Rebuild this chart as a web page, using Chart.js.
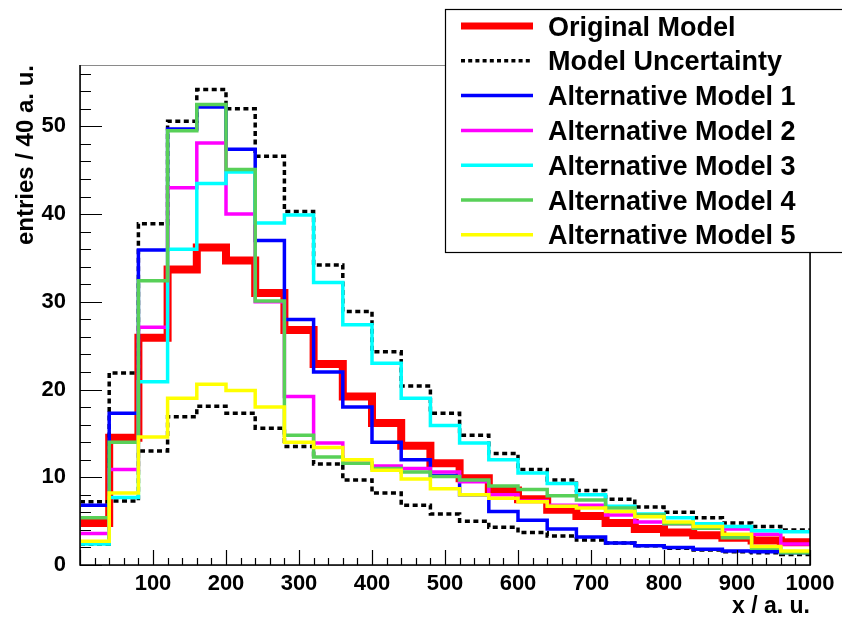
<!DOCTYPE html>
<html>
<head>
<meta charset="utf-8">
<script src="https://cdn.jsdelivr.net/npm/chart.js@4/dist/chart.umd.min.js"></script>
<style>
	html, body { margin: 0; padding: 0; background: #fff; }
</style>
</head>
<body>
<canvas id="chart" width="842" height="618"></canvas>
<script>
// lower bin edges (bin width 40), last upper edge
let binLow = [0, 40, 80, 120, 160, 200, 240, 280, 320, 360, 400, 440, 480, 520, 560, 600, 640, 680, 720, 760, 800, 840, 880, 920, 960];
let binHigh = 1000;

let originalModel = [4.8, 14.5, 25.9, 33.7, 36.2, 34.7, 31.0, 26.8, 22.9, 19.2, 16.2, 13.6, 11.6, 9.9, 8.5, 7.5, 6.3, 5.6, 4.8, 4.1, 3.7, 3.4, 3.1, 2.8, 2.6];
let uncertaintyUp = [7.2, 21.9, 38.9, 50.6, 54.2, 52.0, 46.6, 40.3, 34.2, 28.9, 24.3, 20.4, 17.3, 14.8, 12.7, 10.9, 9.7, 8.5, 7.5, 6.6, 6.0, 5.4, 4.8, 4.4, 4.0];
let uncertaintyDown = [2.4, 7.3, 13.0, 16.9, 18.1, 17.3, 15.6, 13.5, 11.5, 9.7, 8.2, 6.8, 5.8, 5.0, 4.3, 3.7, 3.3, 2.85, 2.5, 2.2, 1.9, 1.7, 1.5, 1.4, 1.2];
let altModel1 = [6.8, 17.3, 35.9, 49.7, 52.2, 47.4, 37.0, 28.0, 22.0, 18.0, 14.0, 12.0, 10.2, 8.0, 6.1, 5.1, 4.1, 3.2, 2.5, 2.2, 2.0, 1.8, 1.6, 1.5, 1.4];
let altModel2 = [3.6, 10.9, 27.1, 43.0, 48.1, 40.0, 30.0, 19.2, 13.9, 11.6, 11.3, 11.0, 10.6, 9.5, 8.0, 7.3, 6.8, 6.8, 5.7, 4.9, 4.7, 4.4, 4.1, 3.5, 2.4];
let altModel3 = [2.4, 7.7, 20.9, 36.0, 43.5, 44.8, 39.0, 39.9, 32.2, 27.4, 23.0, 19.0, 15.9, 13.9, 12.0, 10.5, 9.3, 8.0, 6.7, 5.8, 5.4, 4.7, 4.4, 3.9, 3.8];
let altModel4 = [5.4, 14.0, 32.4, 49.5, 52.5, 45.1, 30.1, 14.8, 12.3, 11.6, 11.0, 10.6, 10.1, 9.7, 9.0, 8.6, 7.9, 7.4, 6.5, 5.7, 4.7, 4.2, 3.1, 1.9, 1.4];
let altModel5 = [2.7, 8.2, 14.6, 19.0, 20.6, 19.9, 18.0, 14.0, 13.4, 12.0, 10.8, 9.8, 8.7, 8.0, 7.6, 7.2, 6.7, 6.5, 6.1, 5.5, 4.9, 4.4, 3.5, 2.1, 1.6];

let yTicks = [0, 10, 20, 30, 40, 50];
let xTicks = [100, 200, 300, 400, 500, 600, 700, 800, 900, 1000];

let fontFamily = "'Liberation Sans', Arial, Helvetica, sans-serif";
let green = "#58d058";

// label, colour, width, dash
let legendItems = [
	["Original Model", "#ff0000", 8, []],
	["Model Uncertainty", "#000000", 3.5, [5, 3.5]],
	["Alternative Model 1", "#0000ff", 3.5, []],
	["Alternative Model 2", "#ff00ff", 3.5, []],
	["Alternative Model 3", "#00ffff", 3.5, []],
	["Alternative Model 4", green, 3.5, []],
	["Alternative Model 5", "#ffff00", 3.5, []]
];

// histogram outline: each bin value held from its lower edge to the next
function toSteps(values){
	let pts = [];
	for(let i = 0; i < values.length; i++){
		pts.push({x: binLow[i], y: values[i]});
	}
	pts.push({x: binHigh, y: values[values.length - 1]});
	return pts;
}

function histo(label, values, color, width, dash, order){
	return {
		label: label,
		data: toSteps(values),
		borderColor: color,
		borderWidth: width,
		borderDash: dash,
		borderCapStyle: "butt",
		borderJoinStyle: "miter",
		stepped: "before",
		pointRadius: 0,
		fill: false,
		order: order
	};
}

let datasets = [
	histo("Original Model", originalModel, "#ff0000", 8, [], 10),
	histo("Model Uncertainty", uncertaintyUp, "#000000", 3.5, [5, 3.5], 9),
	histo("Model Uncertainty (down)", uncertaintyDown, "#000000", 3.5, [5, 3.5], 8),
	histo("Alternative Model 1", altModel1, "#0000ff", 3.5, [], 5),
	histo("Alternative Model 2", altModel2, "#ff00ff", 3.5, [], 4),
	histo("Alternative Model 3", altModel3, "#00ffff", 3.5, [], 3),
	histo("Alternative Model 4", altModel4, green, 3.5, [], 2),
	histo("Alternative Model 5", altModel5, "#ffff00", 3.5, [], 1)
];

// frame and inward ROOT style ticks
let axesPlugin = {
	id: "rootAxes",
	afterDatasetsDraw(chart){
		let ctx = chart.ctx;
		let a = chart.chartArea;
		let xs = chart.scales.x;
		let ys = chart.scales.y;
		ctx.save();
		ctx.strokeStyle = "#8a8a8a";
		ctx.lineWidth = 1;
		ctx.strokeRect(a.left + 0.5, a.top + 0.5, a.right - a.left, a.bottom - a.top);
		ctx.strokeStyle = "#000";
		ctx.lineWidth = 1.5;
		ctx.beginPath();
		ctx.moveTo(a.left, a.top);
		ctx.lineTo(a.left, a.bottom);
		ctx.lineTo(a.right, a.bottom);
		ctx.lineTo(a.right, a.top);
		ctx.stroke();
		ctx.lineWidth = 1.2;
		ctx.beginPath();
		for(let v = 0; v <= ys.max; v += 2){
			let y = Math.round(ys.getPixelForValue(v)) + 0.5;
			let len = v % 10 == 0 ? 22 : 11;
			ctx.moveTo(a.left, y);
			ctx.lineTo(a.left + len, y);
		}
		for(let v = 0; v <= xs.max; v += 20){
			let x = Math.round(xs.getPixelForValue(v)) + 0.5;
			let len = v % 100 == 0 ? 15 : 7;
			ctx.moveTo(x, a.bottom);
			ctx.lineTo(x, a.bottom - len);
		}
		ctx.stroke();
		ctx.restore();
	}
};

let legendPlugin = {
	id: "rootLegend",
	afterDraw(chart){
		let ctx = chart.ctx;
		let boxX = 445, boxY = 9, boxW = 420, boxH = 243;
		ctx.save();
		ctx.fillStyle = "#fff";
		ctx.fillRect(boxX, boxY, boxW, boxH);
		ctx.strokeStyle = "#000";
		ctx.lineWidth = 1.2;
		ctx.strokeRect(boxX + 0.5, boxY + 0.5, boxW, boxH);
		ctx.font = "bold 27px " + fontFamily;
		ctx.textBaseline = "alphabetic";
		ctx.textAlign = "left";
		for(let i = 0; i < legendItems.length; i++){
			let it = legendItems[i];
			let y = 26 + i * 34.8;
			ctx.strokeStyle = it[1];
			ctx.lineWidth = it[2] > 5 ? 7 : 3.5;
			ctx.setLineDash(it[3].length ? [4, 3.2] : []);
			ctx.beginPath();
			ctx.moveTo(461, y);
			ctx.lineTo(533, y);
			ctx.stroke();
			ctx.setLineDash([]);
			ctx.fillStyle = "#000";
			ctx.fillText(it[0], 548, y + 9.5);
		}
		ctx.restore();
	}
};

let ctx = document.getElementById("chart").getContext("2d");
let chart = new Chart(ctx, {
	type: "line",
	data: {datasets: datasets},
	plugins: [axesPlugin, legendPlugin],
	options: {
		responsive: false,
		animation: false,
		devicePixelRatio: 1,
		layout: {padding: {top: 65, right: 32, left: 0, bottom: 0}},
		plugins: {
			legend: {display: false},
			tooltip: {enabled: false}
		},
		scales: {
			x: {
				type: "linear",
				min: 0,
				max: binHigh,
				grid: {display: false},
				border: {display: false},
				afterBuildTicks(scale){
					scale.ticks = xTicks.map(v => ({value: v}));
				},
				ticks: {
					color: "#000",
					autoSkip: false,
					maxRotation: 0,
					padding: 0,
					callback: v => String(v),
					font: {family: fontFamily, size: 22, weight: "bold", lineHeight: 1}
				},
				title: {
					display: true,
					text: "x / a. u.",
					align: "end",
					color: "#000",
					padding: 0,
					font: {family: fontFamily, size: 23, weight: "bold", lineHeight: 1}
				},
				afterFit(scale){
					scale.height = 53;
				}
			},
			y: {
				type: "linear",
				min: 0,
				max: 57,
				grid: {display: false},
				border: {display: false},
				afterBuildTicks(scale){
					scale.ticks = yTicks.map(v => ({value: v}));
				},
				ticks: {
					color: "#000",
					padding: 6,
					font: {family: fontFamily, size: 22, weight: "bold"}
				},
				title: {
					display: true,
					text: "entries / 40 a. u.",
					align: "end",
					color: "#000",
					padding: {top: 14, bottom: 0},
					font: {family: fontFamily, size: 24, weight: "bold", lineHeight: 1}
				},
				afterFit(scale){
					scale.width = 80;
				}
			}
		}
	}
});
</script>
</body>
</html>
